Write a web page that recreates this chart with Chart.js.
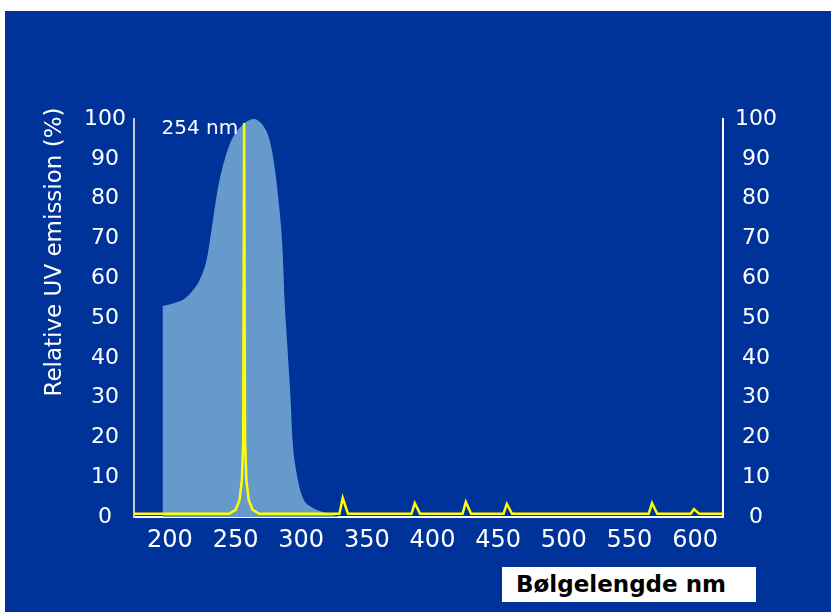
<!DOCTYPE html>
<html>
<head>
<meta charset="utf-8">
<title>Relative UV emission</title>
<script src="https://cdn.jsdelivr.net/npm/chart.js@4.4.0/dist/chart.umd.min.js"></script>
<style>
  html, body { margin: 0; padding: 0; background: #fff; }
  body { width: 831px; height: 612px; position: relative; overflow: hidden; }
  #panel { position: absolute; left: 5px; top: 11px; width: 826px; height: 601px; background: #003399; }
  #chart { position: absolute; left: 0; top: 0; }
  #xlabel {
    position: absolute; left: 497px; top: 556px; width: 254px; height: 35px;
    box-sizing: border-box; padding-left: 14px;
    background: #fff; color: #000;
    font: bold 23px "DejaVu Sans", sans-serif; line-height: 35px; white-space: nowrap;
  }
</style>
</head>
<body>
<div id="panel">
  <canvas id="chart" width="826" height="601"></canvas>
  <div id="xlabel">Bølgelengde nm</div>
</div>
<script>
// axis ranges and tick labels
const xMin = 172.6;
const xMax = 621.3;
const xTicks = [200, 250, 300, 350, 400, 450, 500, 550, 600];
const yTicks = [0, 10, 20, 30, 40, 50, 60, 70, 80, 90, 100];

// yellow lamp spectrum (nm, %)
const lampNm = [172.6, 245, 250, 253, 254.8, 255.8, 256.5, 257.2, 258.2, 260, 263, 268,
  329.1, 331.6, 335.6, 384, 386.5, 390.5, 422.9, 425.4, 429.4,
  454.1, 456.6, 460.6, 564.7, 567.2, 571.2, 596.7, 599.2, 603.2, 621.3];
const lampPct = [0.8, 0.8, 1.8, 4.3, 9.3, 19, 99, 19, 9.3, 4.3, 1.8, 0.8,
  0.8, 4.8, 0.8, 0.8, 3.5, 0.8, 0.8, 3.8, 0.8,
  0.8, 3.3, 0.8, 0.8, 3.5, 0.8, 0.8, 2.0, 0.8, 0.8];

// light blue germicidal band (nm, %)
const bandNm = [194.3, 203.5, 209.6, 218.7, 222.5, 227.9, 230.2, 232.5, 234.5, 237.0, 241.6,
  246.9, 255.3, 263.7, 270.6, 275.9, 279.7, 283.5, 285.8, 287.3, 289.6, 291.9, 293.4,
  296.5, 301.0, 308.7, 319.3, 329.2];
const bandPct = [53, 53.8, 54.5, 57.5, 59.5, 64.6, 69, 74, 78.5, 83.5, 89.7,
  94.7, 98.5, 100, 98.5, 94.7, 88, 77, 67, 54.5, 42, 29.4, 19.3,
  11, 5, 2.3, 1, 0];

const peakNm = 256.5;
const peakLabel = "254 nm";
const yTitle = "Relative UV emission (%)";

Chart.defaults.font.family = '"DejaVu Sans", sans-serif';
Chart.defaults.color = "#ffffff";

const toPoints = (xs, ys) => xs.map((x, i) => ({ x: x, y: ys[i] }));

// text drawn on the canvas: axis title and peak label
const textPlugin = {
  id: "uvText",
  afterDatasetsDraw(chart) {
    const { ctx, chartArea, scales } = chart;
    ctx.save();
    ctx.fillStyle = "#ffffff";
    ctx.font = '20px "DejaVu Sans"';
    ctx.textAlign = "right";
    ctx.textBaseline = "middle";
    ctx.fillText(peakLabel, scales.x.getPixelForValue(peakNm) - 6, scales.y.getPixelForValue(97.5));

    ctx.translate(50, chartArea.top + 133);
    ctx.rotate(-Math.PI / 2);
    ctx.font = '23px "DejaVu Sans"';
    ctx.textAlign = "center";
    ctx.fillText(yTitle, 0, 0);
    ctx.restore();
  },
};

const yAxis = (position, color, pad, width) => ({
  type: "linear",
  position: position,
  min: 0,
  max: 100,
  afterBuildTicks: (s) => { s.ticks = yTicks.map((v) => ({ value: v })); },
  afterFit: (s) => { s.width = width; },
  grid: { display: false, drawTicks: false },
  border: { color: color, width: 2 },
  ticks: { color: "#ffffff", font: { size: 22 }, padding: pad, crossAlign: "center" },
});

new Chart(document.getElementById("chart"), {
  type: "line",
  data: {
    datasets: [
      {
        label: "Lamp",
        data: toPoints(lampNm, lampPct),
        borderColor: "#ffff00",
        borderWidth: 2.5,
        pointRadius: 0,
        tension: 0,
        fill: false,
        yAxisID: "y",
      },
      {
        label: "Band",
        data: toPoints(bandNm, bandPct),
        borderWidth: 0,
        borderColor: "rgba(0,0,0,0)",
        backgroundColor: "#6699cc",
        pointRadius: 0,
        cubicInterpolationMode: "monotone",
        fill: "origin",
        yAxisID: "y",
      },
    ],
  },
  options: {
    responsive: false,
    animation: false,
    events: [],
    layout: { padding: { top: 108, left: 0, right: 0, bottom: 0 } },
    plugins: {
      legend: { display: false },
      tooltip: { enabled: false },
    },
    scales: {
      x: {
        type: "linear",
        min: xMin,
        max: xMax,
        afterBuildTicks: (s) => { s.ticks = xTicks.map((v) => ({ value: v })); },
        afterFit: (s) => { s.height = 95; },
        grid: { display: false, drawTicks: false },
        border: { color: "#ffffff", width: 2 },
        ticks: { color: "#ffffff", font: { size: 24 }, padding: 9, autoSkip: false, maxRotation: 0 },
      },
      y: yAxis("left", "#c8c8d8", 8, 129),
      y2: yAxis("right", "#ffffff", 12, 108),
    },
  },
  plugins: [textPlugin],
});
</script>
</body>
</html>
